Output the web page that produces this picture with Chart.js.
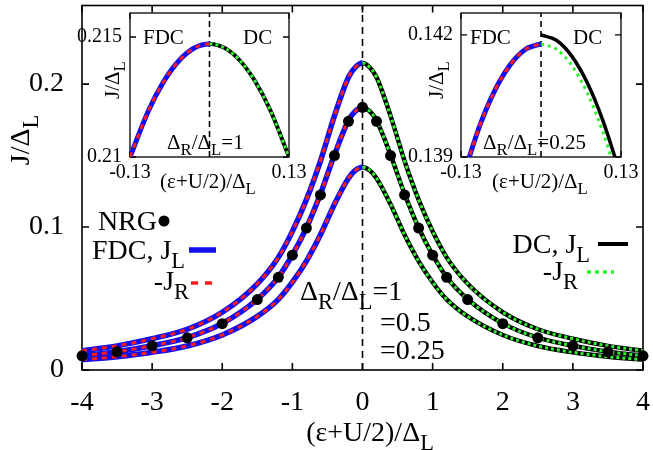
<!DOCTYPE html>
<html>
<head>
<meta charset="utf-8">
<script src="https://cdn.jsdelivr.net/npm/chart.js@4.4.1/dist/chart.umd.min.js"></script>
<style>
  body { margin: 0; background: #fff; }
  #wrap { position: relative; width: 653px; height: 450px; font-family: 'Liberation Serif', 'DejaVu Serif', serif; color: #000; overflow: hidden; }
  canvas { position: absolute; }
  .t { position: absolute; white-space: nowrap; line-height: 1; }
  .m { font-size: 28px; }
  .i { font-size: 21px; }
  .s { font-size: 80%; position: relative; top: 0.38em; }
  .r { transform: translate(-100%, -50%); }
  .l { transform: translate(0, -50%); }
  .c { transform: translate(-50%, -50%); }
  .rot { transform: translate(-50%, -50%) rotate(-90deg); }
</style>
</head>
<body>
<div id="wrap">
  <canvas id="main" width="653" height="450" style="left:0;top:0"></canvas>
  <canvas id="inset1" width="250" height="195" style="left:60px;top:0"></canvas>
  <canvas id="inset2" width="253" height="195" style="left:400px;top:0"></canvas>

  <div class="t m rot" style="left:20px;top:140px">J/Δ<span class="s">L</span></div>
  <div class="t m c" style="left:370px;top:432px">(ε+U/2)/Δ<span class="s">L</span></div>

  <div class="t m r" style="left:157px;top:221px">NRG</div>
  <div class="t m r" style="left:185px;top:250px">FDC, J<span class="s">L</span></div>
  <div class="t m r" style="left:189px;top:281px">-J<span class="s">R</span></div>
  <div class="t m r" style="left:590px;top:244px">DC, J<span class="s">L</span></div>
  <div class="t m r" style="left:578px;top:271px">-J<span class="s">R</span></div>

  <div class="t m l" style="left:300px;top:291px">Δ<span class="s">R</span>/Δ<span class="s">L</span>=1</div>
  <div class="t m l" style="left:380px;top:322px">=0.5</div>
  <div class="t m l" style="left:380px;top:350px">=0.25</div>

  <div class="t i l" style="left:143px;top:37px">FDC</div>
  <div class="t i l" style="left:243px;top:37px">DC</div>
  <div class="t i l" style="left:167px;top:142px">Δ<span class="s">R</span>/Δ<span class="s">L</span>=1</div>
  <div class="t i rot" style="left:112px;top:80px">J/Δ<span class="s">L</span></div>
  <div class="t i c" style="left:208px;top:181px">(ε+U/2)/Δ<span class="s">L</span></div>

  <div class="t i l" style="left:470px;top:37px">FDC</div>
  <div class="t i l" style="left:573px;top:37px">DC</div>
  <div class="t i l" style="left:483px;top:142px">Δ<span class="s">R</span>/Δ<span class="s">L</span>=0.25</div>
  <div class="t i rot" style="left:436px;top:80px">J/Δ<span class="s">L</span></div>
  <div class="t i c" style="left:540px;top:181px">(ε+U/2)/Δ<span class="s">L</span></div>
</div>

<script>
// main panel: current vs level position, three coupling ratios
const xs = [-4, -3.5, -3, -2.5, -2, -1.5, -1.2, -1, -0.8, -0.6, -0.4, -0.2, -0.1, 0,
            0.1, 0.2, 0.4, 0.6, 0.8, 1, 1.2, 1.5, 2, 2.5, 3, 3.5, 4];
const jRatio1 = [0.0135, 0.0169, 0.0219, 0.0285, 0.0404, 0.0603, 0.0788, 0.0970, 0.1192, 0.1462, 0.1778, 0.2048, 0.2119, 0.2148,
                 0.2119, 0.2048, 0.1778, 0.1462, 0.1192, 0.0970, 0.0788, 0.0603, 0.0404, 0.0285, 0.0219, 0.0169, 0.0135];
const jRatio05 = [0.0100, 0.0128, 0.0170, 0.0226, 0.0326, 0.0495, 0.0650, 0.0805, 0.0995, 0.1232, 0.1505, 0.1745, 0.1812, 0.1835,
                  0.1812, 0.1745, 0.1505, 0.1232, 0.0995, 0.0805, 0.0650, 0.0495, 0.0326, 0.0226, 0.0170, 0.0128, 0.0100];
const jRatio025 = [0.0072, 0.0093, 0.0124, 0.0168, 0.0245, 0.0375, 0.0494, 0.0614, 0.0762, 0.0946, 0.1160, 0.1342, 0.1398, 0.1419,
                   0.1398, 0.1342, 0.1160, 0.0946, 0.0762, 0.0614, 0.0494, 0.0375, 0.0245, 0.0168, 0.0124, 0.0093, 0.0072];
const nrgX = [-4, -3.5, -3, -2.5, -2, -1.5, -1.2, -1, -0.8, -0.6, -0.4, -0.2, 0,
              0.2, 0.4, 0.6, 0.8, 1, 1.2, 1.5, 2, 2.5, 3, 3.5, 4];
const nrgJ = [0.0099, 0.0127, 0.0169, 0.0225, 0.0324, 0.0493, 0.0648, 0.0803, 0.0993, 0.1225, 0.1500, 0.1740, 0.1838,
              0.1740, 0.1500, 0.1225, 0.0993, 0.0803, 0.0648, 0.0493, 0.0324, 0.0225, 0.0169, 0.0127, 0.0099];
const xTicks = [-4, -3, -2, -1, 0, 1, 2, 3, 4];
const yTicks = [0, 0.1, 0.2];

// insets: zoom around the peak
const in1X = [-0.13, -0.1, -0.075, -0.05, -0.025, 0, 0.025, 0.05, 0.075, 0.1, 0.13];
const in1J = [0.2100, 0.21192, 0.21314, 0.21401, 0.21454, 0.21471, 0.21454, 0.21401, 0.21314, 0.21192, 0.2100];
const in2FdcX = [-0.13, -0.1, -0.075, -0.05, -0.025, 0];
const in2FdcJ = [0.13835, 0.13975, 0.14064, 0.14127, 0.14165, 0.14178];
const in2DcX = [0, 0.025, 0.05, 0.075, 0.1, 0.125, 0.13];
const in2DcJL = [0.14200, 0.14187, 0.14148, 0.14083, 0.13992, 0.13875, 0.13848];
const in2DcJR = [0.14178, 0.14165, 0.14125, 0.14058, 0.13964, 0.13844, 0.13816];
const insetXTicks = [-0.13, 0.13];
const in1YTicks = [0.21, 0.215];
const in2YTicks = [0.139, 0.142];

const BLUE = '#1010ee', RED = '#ff1a1a', BLACK = '#000', GREEN = '#33f033';
const FONT = 'Liberation Serif';

function pts(xv, yv) { return xv.map((x, i) => ({ x: x, y: yv[i] })); }
const isLeft = c => c.p0.parsed.x < 0;

// gnuplot style box with inward ticks on all four sides
const framePlugin = {
  id: 'frame',
  beforeDatasetsDraw(chart, args, opts) {
    const { ctx, chartArea: a } = chart;
    const x = chart.scales.x, y = chart.scales.y;
    ctx.save();
    ctx.strokeStyle = '#000';
    ctx.lineWidth = opts.width;
    ctx.strokeRect(a.left, a.top, a.right - a.left, a.bottom - a.top);
    ctx.beginPath();
    x.ticks.forEach(t => {
      const p = x.getPixelForValue(t.value);
      ctx.moveTo(p, a.bottom); ctx.lineTo(p, a.bottom - opts.tick);
      ctx.moveTo(p, a.top); ctx.lineTo(p, a.top + opts.tick);
    });
    y.ticks.forEach(t => {
      const p = y.getPixelForValue(t.value);
      ctx.moveTo(a.left, p); ctx.lineTo(a.left + opts.tick, p);
      ctx.moveTo(a.right, p); ctx.lineTo(a.right - opts.tick, p);
    });
    ctx.stroke();
    ctx.restore();
  }
};

// key samples next to the legend words
const keyPlugin = {
  id: 'keys',
  afterDatasetsDraw(chart) {
    const ctx = chart.ctx;
    ctx.save();
    ctx.fillStyle = BLACK;
    ctx.beginPath(); ctx.arc(164, 221, 5.5, 0, Math.PI * 2); ctx.fill();
    const seg = (x0, x1, yy, col, w, dash) => {
      ctx.beginPath(); ctx.setLineDash(dash); ctx.strokeStyle = col; ctx.lineWidth = w;
      ctx.moveTo(x0, yy); ctx.lineTo(x1, yy); ctx.stroke();
    };
    seg(189, 216, 250, BLUE, 5.5, []);
    seg(191, 216, 283, RED, 3.5, [7, 7]);
    seg(598, 628, 244, BLACK, 4, []);
    seg(587, 614, 272, GREEN, 3.5, [4, 4]);
    ctx.restore();
  }
};

function scales(o) {
  const fit = (s, horiz) => {
    if (horiz) s.height = o.bottomH; else s.width = o.leftW;
    s.paddingLeft = 0; s.paddingRight = 0; s.paddingTop = 0; s.paddingBottom = 0;
  };
  return {
    x: {
      type: 'linear', min: o.xMin, max: o.xMax,
      grid: { display: false }, border: { display: false },
      afterBuildTicks: s => { s.ticks = o.xTicks.map(v => ({ value: v })); },
      afterFit: s => fit(s, true),
      ticks: { font: { family: FONT, size: o.fs }, color: '#000', padding: o.xPad, maxRotation: 0,
               callback: v => String(v) }
    },
    y: {
      type: 'linear', min: o.yMin, max: o.yMax,
      grid: { display: false }, border: { display: false },
      afterBuildTicks: s => { s.ticks = o.yTicks.map(v => ({ value: v })); },
      afterFit: s => fit(s, false),
      ticks: { font: { family: FONT, size: o.fs }, color: '#000', padding: o.yPad,
               callback: v => String(v) }
    }
  };
}

function baseOptions(o) {
  return {
    responsive: false, animation: false, events: [],
    layout: { padding: { top: o.top, right: o.right, left: 0, bottom: 0 } },
    plugins: { legend: { display: false }, tooltip: { enabled: false },
               frame: { width: o.frameW, tick: o.tickLen } },
    scales: scales(o)
  };
}

function zeroLine(yMin, yMax, dash) {
  return { data: [{ x: 0, y: yMin }, { x: 0, y: yMax }], showLine: true, pointRadius: 0,
           borderColor: BLACK, borderWidth: 1.6, borderDash: dash, order: 20, clip: 0 };
}

function currentPair(vals) {
  return [
    { data: pts(xs, vals), showLine: true, pointRadius: 0, cubicInterpolationMode: 'monotone', order: 6,
      borderWidth: 5.5, borderColor: BLUE,
      segment: { borderColor: c => isLeft(c) ? BLUE : BLACK, borderWidth: c => isLeft(c) ? 5.5 : 4.5 } },
    { data: pts(xs, vals), showLine: true, pointRadius: 0, cubicInterpolationMode: 'monotone', order: 5,
      borderWidth: 3, borderColor: RED,
      segment: { borderColor: c => isLeft(c) ? RED : GREEN, borderDash: c => isLeft(c) ? [5, 5] : [3, 3] } }
  ];
}

new Chart(document.getElementById('main'), {
  type: 'scatter',
  data: {
    datasets: [
      zeroLine(0, 0.255, [7, 5]),
      ...currentPair(jRatio1),
      ...currentPair(jRatio05),
      ...currentPair(jRatio025),
      { data: pts(nrgX, nrgJ), pointRadius: 5.5, pointBackgroundColor: BLACK, pointBorderWidth: 0,
        showLine: false, order: 1, clip: false }
    ]
  },
  options: baseOptions({ xMin: -4, xMax: 4, yMin: 0, yMax: 0.255, xTicks: xTicks, yTicks: yTicks,
                         fs: 28, xPad: 8, yPad: 10, leftW: 82, bottomH: 80, top: 5, right: 10,
                         frameW: 1.6, tickLen: 7 }),
  plugins: [framePlugin, keyPlugin]
});

const inLine = (xv, yv, col, w, dash, order) => ({
  data: pts(xv, yv), showLine: true, pointRadius: 0, cubicInterpolationMode: 'monotone',
  borderColor: col, borderWidth: w, borderDash: dash, order: order, clip: 0
});

new Chart(document.getElementById('inset1'), {
  type: 'scatter',
  data: {
    datasets: [
      zeroLine(0.21, 0.216, [6, 4]),
      { data: pts(in1X, in1J), showLine: true, pointRadius: 0, cubicInterpolationMode: 'monotone', order: 6,
        borderWidth: 5, borderColor: BLUE, clip: 0,
        segment: { borderColor: c => isLeft(c) ? BLUE : BLACK, borderWidth: c => isLeft(c) ? 5 : 4 } },
      { data: pts(in1X, in1J), showLine: true, pointRadius: 0, cubicInterpolationMode: 'monotone', order: 5,
        borderWidth: 3, borderColor: RED, clip: 0,
        segment: { borderColor: c => isLeft(c) ? RED : GREEN, borderDash: c => isLeft(c) ? [5, 5] : [3, 3] } }
    ]
  },
  options: baseOptions({ xMin: -0.13, xMax: 0.13, yMin: 0.21, yMax: 0.216, xTicks: insetXTicks, yTicks: in1YTicks,
                         fs: 20, xPad: -4, yPad: 0, leftW: 70, bottomH: 38, top: 13, right: 21,
                         frameW: 1.3, tickLen: 6 }),
  plugins: [framePlugin]
});

new Chart(document.getElementById('inset2'), {
  type: 'scatter',
  data: {
    datasets: [
      zeroLine(0.139, 0.14254, [6, 4]),
      inLine(in2FdcX, in2FdcJ, BLUE, 5, [], 6),
      inLine(in2FdcX, in2FdcJ, RED, 3, [5, 5], 5),
      inLine(in2DcX, in2DcJL, BLACK, 3.5, [], 6),
      inLine(in2DcX, in2DcJR, GREEN, 3, [3, 4], 5)
    ]
  },
  options: baseOptions({ xMin: -0.13, xMax: 0.13, yMin: 0.139, yMax: 0.14254, xTicks: insetXTicks, yTicks: in2YTicks,
                         fs: 20, xPad: -4, yPad: 0, leftW: 61, bottomH: 38, top: 13, right: 32,
                         frameW: 1.3, tickLen: 6 }),
  plugins: [framePlugin]
});
</script>
</body>
</html>
